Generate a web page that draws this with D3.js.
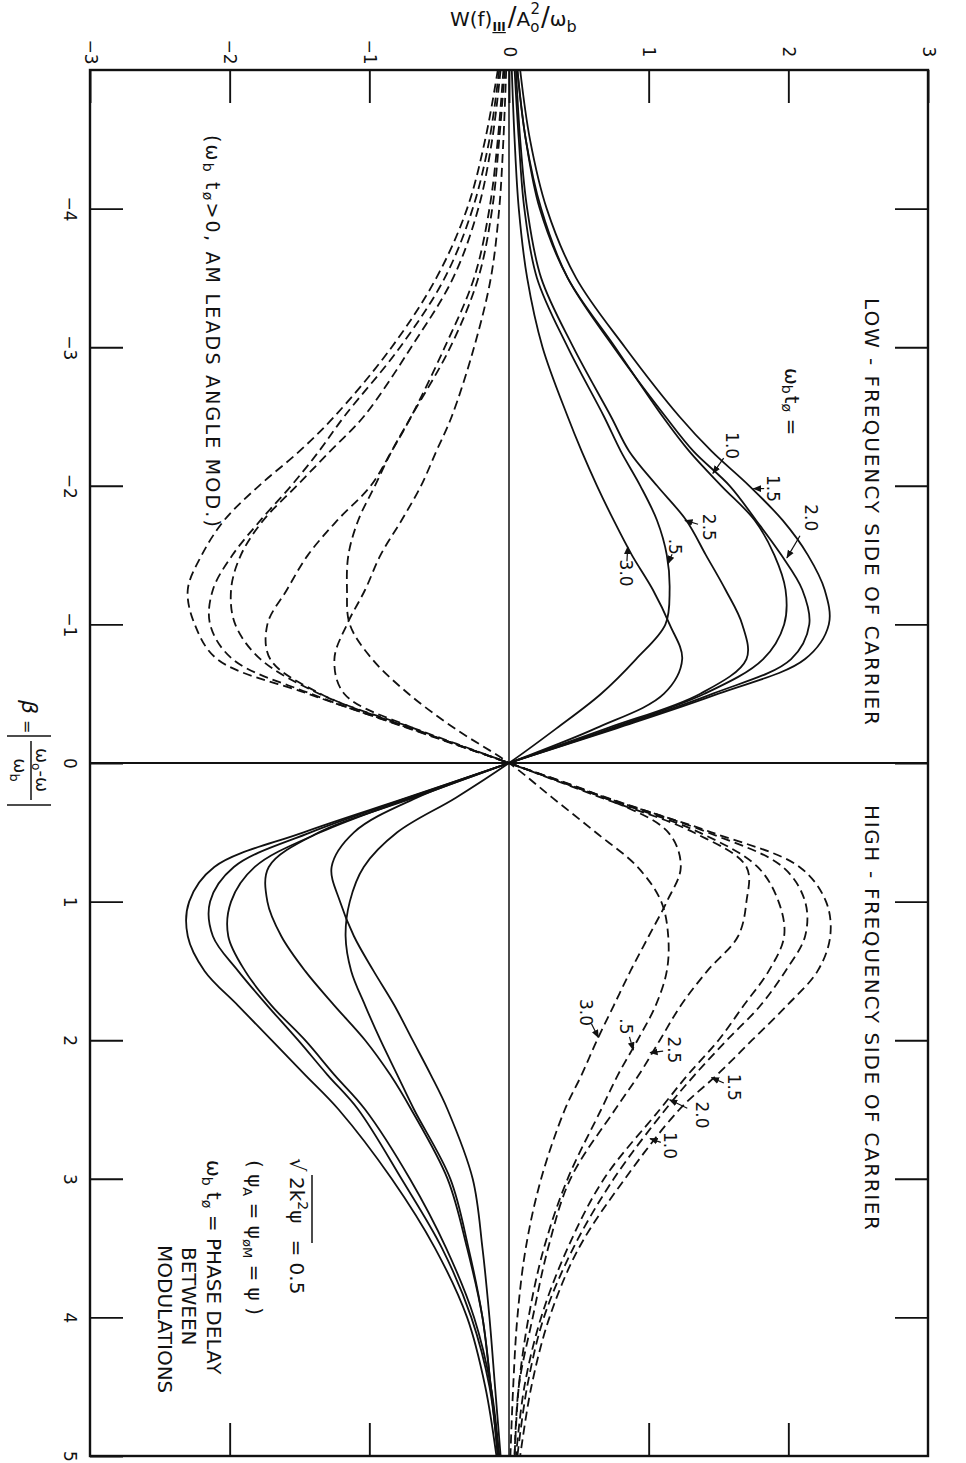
<!DOCTYPE html>
<html>
<head>
<meta charset="utf-8">
<script src="https://cdnjs.cloudflare.com/ajax/libs/d3/7.8.5/d3.min.js"></script>
<style>
  body { margin: 0; background: #fff; }
  svg { display: block; background: #fff; }
  text { font-family: "DejaVu Sans", sans-serif; fill: #111; }
  .curve { fill: none; stroke: #111; stroke-width: 1.8; }
  .dashed { stroke-dasharray: 9 5; }
</style>
</head>
<body>
<svg id="chart" width="966" height="1463"></svg>
<script>
// beta = |w0 - w| / wb, the points where the curves were read
var beta = [-5,-4.5,-4,-3.5,-3,-2.5,-2.25,-2,-1.75,-1.5,-1.25,-1,-0.75,-0.5,-0.25,0,
            0.25,0.5,0.75,1,1.25,1.5,1.75,2,2.25,2.5,3,3.5,4,4.5,5];

// solid curves, W(f)III / A0^2 / wb for each wb*t_phi
var solid10 = [0.06,0.12,0.22,0.42,0.76,1.10,1.29,1.52,1.76,1.90,1.98,1.97,1.82,1.40,0.73,0,-0.70,-1.35,-1.82,-1.99,-2.01,-1.89,-1.70,-1.46,-1.25,-1.03,-0.71,-0.45,-0.25,-0.13,-0.07];
var solid15 = [0.08,0.15,0.27,0.48,0.83,1.22,1.45,1.72,1.96,2.14,2.26,2.29,2.12,1.50,0.77,0,-0.73,-1.47,-2.11,-2.29,-2.30,-2.18,-1.94,-1.70,-1.46,-1.22,-0.84,-0.53,-0.30,-0.17,-0.09];
var solid20 = [0.06,0.12,0.23,0.42,0.75,1.12,1.32,1.58,1.77,1.95,2.10,2.15,2.02,1.46,0.75,0,-0.72,-1.42,-1.97,-2.14,-2.12,-1.94,-1.73,-1.51,-1.30,-1.08,-0.77,-0.48,-0.27,-0.14,-0.08];
var solid25 = [0.05,0.08,0.13,0.23,0.46,0.73,0.86,1.06,1.27,1.41,1.55,1.67,1.70,1.37,0.70,0,-0.68,-1.36,-1.72,-1.73,-1.63,-1.46,-1.25,-1.03,-0.85,-0.70,-0.44,-0.30,-0.19,-0.13,-0.08];
var solid05 = [0.04,0.07,0.11,0.20,0.42,0.68,0.80,0.94,1.06,1.13,1.15,1.12,0.91,0.66,0.34,0,-0.38,-0.80,-1.04,-1.14,-1.17,-1.13,-1.03,-0.92,-0.80,-0.68,-0.42,-0.29,-0.19,-0.13,-0.07];
var solid30 = [0.02,0.04,0.07,0.13,0.24,0.42,0.52,0.63,0.75,0.88,1.03,1.15,1.24,1.11,0.62,0,-0.66,-1.11,-1.27,-1.21,-1.11,-0.97,-0.82,-0.69,-0.56,-0.44,-0.26,-0.19,-0.14,-0.10,-0.06];

// dashed curves
var dashed10 = [-0.06,-0.12,-0.22,-0.40,-0.70,-1.04,-1.28,-1.52,-1.76,-1.92,-1.99,-1.96,-1.78,-1.36,-0.70,0,0.68,1.36,1.78,1.93,1.97,1.86,1.68,1.50,1.28,1.08,0.68,0.42,0.23,0.11,0.05];
var dashed15 = [-0.08,-0.17,-0.30,-0.52,-0.84,-1.25,-1.50,-1.79,-2.04,-2.20,-2.30,-2.25,-2.09,-1.44,-0.71,0,0.69,1.45,2.08,2.27,2.30,2.21,1.99,1.74,1.49,1.22,0.83,0.50,0.29,0.16,0.08];
var dashed20 = [-0.07,-0.14,-0.26,-0.46,-0.78,-1.18,-1.36,-1.56,-1.78,-1.98,-2.12,-2.14,-1.98,-1.42,-0.72,0,0.70,1.42,1.96,2.12,2.12,1.98,1.80,1.56,1.33,1.12,0.75,0.46,0.25,0.13,0.06];
var dashed25 = [-0.04,-0.08,-0.14,-0.25,-0.46,-0.70,-0.84,-0.99,-1.23,-1.44,-1.59,-1.73,-1.71,-1.35,-0.68,0,0.66,1.32,1.70,1.70,1.64,1.42,1.23,1.08,0.93,0.76,0.44,0.28,0.17,0.07,0.04];
var dashed05 = [-0.03,-0.07,-0.12,-0.22,-0.42,-0.70,-0.84,-0.96,-1.08,-1.15,-1.16,-1.14,-0.98,-0.72,-0.39,0,0.31,0.62,0.92,1.09,1.14,1.13,1.05,0.92,0.78,0.66,0.42,0.25,0.14,0.07,0.04];
var dashed30 = [-0.02,-0.04,-0.07,-0.13,-0.25,-0.41,-0.52,-0.63,-0.77,-0.92,-1.03,-1.16,-1.25,-1.18,-0.68,0,0.68,1.14,1.23,1.13,1.00,0.87,0.75,0.63,0.52,0.40,0.23,0.12,0.06,0.03,0.01];

var wTicks = [-3,-2,-1,0,1,2,3];
var betaTicks = [-4,-3,-2,-1,0,1,2,3,4,5];

// curve labels: text centre and arrow tip, in data units (W, beta)
var solidLabels = [
  {t:"1.0", w:1.60, b:-2.29, tw:1.46, tb:-2.09},
  {t:"1.5", w:1.89, b:-1.98, tw:1.75, tb:-1.98},
  {t:"2.0", w:2.16, b:-1.77, tw:1.99, tb:-1.48},
  {t:"2.5", w:1.43, b:-1.70, tw:1.26, tb:-1.75},
  {t:".5",  w:1.19, b:-1.56, tw:1.14, tb:-1.44},
  {t:"3.0", w:0.84, b:-1.37, tw:0.85, tb:-1.56}
];
var dashedLabels = [
  {t:"3.0", w:0.55, b:1.80, tw:0.64, tb:1.98},
  {t:".5",  w:0.84, b:1.90, tw:0.89, tb:2.07},
  {t:"2.5", w:1.18, b:2.07, tw:1.01, tb:2.09},
  {t:"1.5", w:1.61, b:2.34, tw:1.45, tb:2.27},
  {t:"2.0", w:1.38, b:2.54, tw:1.15, tb:2.43},
  {t:"1.0", w:1.15, b:2.76, tw:1.01, tb:2.71}
];

var svg = d3.select("#chart");

// the chart is drawn turned a quarter turn: W runs across, beta runs down
var x = d3.scaleLinear().domain([-3, 3]).range([90, 928]);
var y = d3.scaleLinear().domain([-5, 5]).range([70, 1456]);

svg.append("defs").append("marker")
    .attr("id", "arrow")
    .attr("viewBox", "0 0 10 10")
    .attr("refX", 9).attr("refY", 5)
    .attr("markerWidth", 7).attr("markerHeight", 7)
    .attr("orient", "auto")
  .append("path")
    .attr("d", "M0,1 L10,5 L0,9 Z")
    .attr("fill", "#111");

// frame
svg.append("rect")
    .attr("x", x(-3)).attr("y", y(-5))
    .attr("width", x(3) - x(-3)).attr("height", y(5) - y(-5))
    .attr("fill", "none").attr("stroke", "#111").attr("stroke-width", 2.4);

// zero lines
svg.append("line")
    .attr("x1", x(0)).attr("x2", x(0)).attr("y1", y(-5)).attr("y2", y(5))
    .attr("stroke", "#111").attr("stroke-width", 1.5);
svg.append("line")
    .attr("x1", x(-3)).attr("x2", x(3)).attr("y1", y(0)).attr("y2", y(0))
    .attr("stroke", "#111").attr("stroke-width", 1.8);

function styleAxis(g) {
  g.select(".domain").remove();
  g.selectAll("line").attr("stroke", "#111").attr("stroke-width", 1.9);
}

var axTop = svg.append("g")
    .attr("transform", "translate(0," + y(-5) + ")")
    .call(d3.axisTop(x).tickValues(wTicks).tickSizeInner(-33).tickSizeOuter(0).tickFormat(d3.format("d")));
styleAxis(axTop);
axTop.selectAll("text")
    .attr("y", null).attr("dy", null)
    .attr("transform", "translate(0,-18) rotate(90)")
    .attr("text-anchor", "middle")
    .attr("dominant-baseline", "central")
    .style("font-size", "17px").attr("fill", "#111");

var axLeft = svg.append("g")
    .attr("transform", "translate(" + x(-3) + ",0)")
    .call(d3.axisLeft(y).tickValues(betaTicks).tickSizeInner(-33).tickSizeOuter(0).tickFormat(d3.format("d")));
styleAxis(axLeft);
axLeft.selectAll("text")
    .attr("x", null).attr("dy", null)
    .attr("transform", "translate(-20,0) rotate(90)")
    .attr("text-anchor", "middle")
    .attr("dominant-baseline", "central")
    .style("font-size", "17px").attr("fill", "#111");

var axRight = svg.append("g")
    .attr("transform", "translate(" + x(3) + ",0)")
    .call(d3.axisRight(y).tickValues(betaTicks.slice(0, -1)).tickSizeInner(-33).tickSizeOuter(0).tickFormat(""));
styleAxis(axRight);

var axBottom = svg.append("g")
    .attr("transform", "translate(0," + y(5) + ")")
    .call(d3.axisBottom(x).tickValues([-2,-1,1,2]).tickSizeInner(-33).tickSizeOuter(0).tickFormat(""));
styleAxis(axBottom);

// curves
var line = d3.line()
    .x(function(d) { return x(d[1]); })
    .y(function(d) { return y(d[0]); })
    .curve(d3.curveCatmullRom.alpha(0.5));

var solids = [solid10, solid15, solid20, solid25, solid05, solid30];
var dashes = [dashed10, dashed15, dashed20, dashed25, dashed05, dashed30];

solids.forEach(function(s) {
  svg.append("path")
      .datum(d3.zip(beta, s))
      .attr("class", "curve")
      .attr("d", line);
});
dashes.forEach(function(s) {
  svg.append("path")
      .datum(d3.zip(beta, s))
      .attr("class", "curve dashed")
      .attr("d", line);
});

// curve labels with little arrows
function drawLabels(list) {
  list.forEach(function(d) {
    var cx = x(d.w), cy = y(d.b), tx = x(d.tw), ty = y(d.tb);
    svg.append("line")
        .attr("x1", cx + (tx - cx) * 0.45).attr("y1", cy + (ty - cy) * 0.45)
        .attr("x2", tx).attr("y2", ty)
        .attr("stroke", "#111").attr("stroke-width", 1.2)
        .attr("marker-end", "url(#arrow)");
    svg.append("text")
        .attr("transform", "translate(" + cx + "," + cy + ") rotate(90)")
        .attr("text-anchor", "middle")
        .attr("dominant-baseline", "central")
        .style("font-size", "17px")
        .text(d.t);
  });
}
drawLabels(solidLabels);
drawLabels(dashedLabels);

// title across the top
var title = svg.append("text")
    .attr("x", 450).attr("y", 26)
    .style("font-size", "20px");
title.append("tspan").text("W(f)");
title.append("tspan").attr("dy", 5).style("font-size", "12px").style("font-weight", "bold").style("text-decoration", "underline").text("III");
title.append("tspan").attr("dy", -5).attr("dx", 2).style("font-size", "26px").text("/");
title.append("tspan").text("A");
title.append("tspan").attr("dy", 6).style("font-size", "15px").text("o");
title.append("tspan").attr("dx", -9).attr("dy", -18).style("font-size", "15px").text("2");
title.append("tspan").attr("dx", 1).attr("dy", 12).style("font-size", "26px").text("/");
title.append("tspan").text("\u03c9");
title.append("tspan").attr("dy", 6).style("font-size", "16px").text("b");

// beta label on the left, turned like the rest
var bl = svg.append("g").attr("transform", "translate(31,698) rotate(90)");
bl.append("text").attr("x", 2).attr("y", 9).style("font-size", "22px").style("font-style", "italic").text("\u03b2");
bl.append("text").attr("x", 22).attr("y", 9).style("font-size", "16px").text("=");
bl.append("line").attr("x1", 38).attr("x2", 38).attr("y1", -20).attr("y2", 24).attr("stroke", "#111").attr("stroke-width", 1.7);
bl.append("line").attr("x1", 107).attr("x2", 107).attr("y1", -20).attr("y2", 24).attr("stroke", "#111").attr("stroke-width", 1.7);
bl.append("line").attr("x1", 43).attr("x2", 102).attr("y1", 0).attr("y2", 0).attr("stroke", "#111").attr("stroke-width", 1.5);
var num = bl.append("text").attr("x", 72).attr("y", -5).attr("text-anchor", "middle").style("font-size", "18px");
num.append("tspan").text("\u03c9");
num.append("tspan").attr("dy", 4).style("font-size", "12px").text("o");
num.append("tspan").attr("dy", -4).text("-\u03c9");
var den = bl.append("text").attr("x", 72).attr("y", 17).attr("text-anchor", "middle").style("font-size", "18px");
den.append("tspan").text("\u03c9");
den.append("tspan").attr("dy", 4).style("font-size", "13px").text("b");

// annotations, all reading downwards
function vText(cx, top, size, len) {
  var t = svg.append("text")
      .attr("transform", "translate(" + cx + "," + top + ") rotate(90)")
      .attr("dominant-baseline", "central")
      .style("font-size", size + "px");
  if (len) t.attr("textLength", len).attr("lengthAdjust", "spacing");
  return t;
}

vText(872, 298, 20, 427).text("LOW - FREQUENCY SIDE OF CARRIER");
vText(872, 805, 20, 425).text("HIGH - FREQUENCY SIDE OF CARRIER");

var wt = vText(792, 368, 20);
wt.append("tspan").text("\u03c9");
wt.append("tspan").attr("dy", 5).style("font-size", "14px").text("b");
wt.append("tspan").attr("dy", -5).attr("dx", 2).text("t");
wt.append("tspan").attr("dy", 5).style("font-size", "14px").text("\u00f8");
wt.append("tspan").attr("dy", -5).text("  =");

var lead = vText(213, 135, 19, 392);
lead.append("tspan").text("(\u03c9");
lead.append("tspan").attr("dy", 5).style("font-size", "14px").text("b");
lead.append("tspan").attr("dy", -5).text(" t");
lead.append("tspan").attr("dy", 5).style("font-size", "14px").text("\u00f8");
lead.append("tspan").attr("dy", -5).text(">0, AM LEADS ANGLE MOD.)");

// parameter block, bottom left
var pb = svg.append("g").attr("transform", "translate(310,1150) rotate(90)");
pb.append("text").attr("x", 8).attr("y", 20).style("font-size", "21px").text("\u221a");
pb.append("line").attr("x1", 25).attr("x2", 93).attr("y1", -2).attr("y2", -2).attr("stroke", "#111").attr("stroke-width", 1.5);
var l1 = pb.append("text").attr("x", 27).attr("y", 20).style("font-size", "20px");
l1.append("tspan").text("2k");
l1.append("tspan").attr("dy", -8).style("font-size", "14px").text("2");
l1.append("tspan").attr("dy", 8).text("\u03c8");
l1.append("tspan").attr("dx", 16).text("= 0.5");

var l2 = pb.append("text").attr("x", 10).attr("y", 62).style("font-size", "20px");
l2.append("tspan").text("( \u03c8");
l2.append("tspan").attr("dy", 5).style("font-size", "13px").text("A");
l2.append("tspan").attr("dy", -5).text(" = \u03c8");
l2.append("tspan").attr("dy", 5).style("font-size", "13px").text("\u00f8M");
l2.append("tspan").attr("dy", -5).text(" = \u03c8 )");

var l3 = pb.append("text").attr("x", 10).attr("y", 103).style("font-size", "20px");
l3.append("tspan").text("\u03c9");
l3.append("tspan").attr("dy", 5).style("font-size", "14px").text("b");
l3.append("tspan").attr("dy", -5).text(" t");
l3.append("tspan").attr("dy", 5).style("font-size", "14px").text("\u00f8");
l3.append("tspan").attr("dy", -5).text(" = PHASE DELAY");

pb.append("text").attr("x", 97).attr("y", 128).style("font-size", "20px").text("BETWEEN");
pb.append("text").attr("x", 95).attr("y", 152).style("font-size", "20px").text("MODULATIONS");
</script>
</body>
</html>
